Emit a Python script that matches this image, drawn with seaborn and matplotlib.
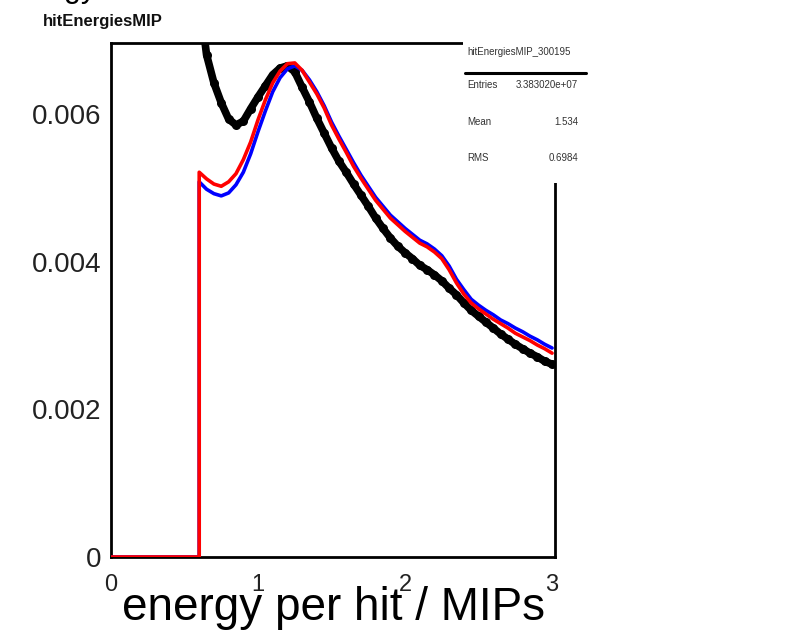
import numpy as np
import pandas as pd
import matplotlib
matplotlib.use("Agg")
import matplotlib.pyplot as plt
from matplotlib.patches import Rectangle
import seaborn as sns

# ---------------- data ----------------
energy = [0.60, 0.65, 0.70, 0.75, 0.80, 0.85, 0.90, 0.95, 1.00, 1.05,
          1.10, 1.15, 1.20, 1.25, 1.30, 1.35, 1.40, 1.45, 1.50, 1.55,
          1.60, 1.65, 1.70, 1.75, 1.80, 1.85, 1.90, 1.95, 2.00, 2.05,
          2.10, 2.15, 2.20, 2.25, 2.30, 2.35, 2.40, 2.45, 2.50, 2.55,
          2.60, 2.65, 2.70, 2.75, 2.80, 2.85, 2.90, 2.95, 3.00]

red_hist = [0.00521, 0.00512, 0.00505, 0.00502, 0.00508, 0.00519, 0.00538, 0.00562, 0.00592, 0.00619,
            0.00642, 0.00658, 0.00668, 0.00669, 0.00659, 0.00643, 0.00627, 0.00608, 0.00585, 0.00566,
            0.00548, 0.00529, 0.00513, 0.00498, 0.00483, 0.00471, 0.00459, 0.00450, 0.00441, 0.00433,
            0.00425, 0.00420, 0.00413, 0.00404, 0.00389, 0.00371, 0.00356, 0.00344, 0.00336, 0.00329,
            0.00322, 0.00316, 0.00310, 0.00303, 0.00298, 0.00293, 0.00287, 0.00282, 0.00276]

blue_hist = [0.00508, 0.00498, 0.00492, 0.00489, 0.00493, 0.00504, 0.00521, 0.00546, 0.00576, 0.00604,
             0.00630, 0.00649, 0.00661, 0.00665, 0.00659, 0.00646, 0.00630, 0.00611, 0.00589, 0.00570,
             0.00552, 0.00534, 0.00517, 0.00502, 0.00487, 0.00475, 0.00463, 0.00454, 0.00445, 0.00437,
             0.00429, 0.00424, 0.00417, 0.00408, 0.00394, 0.00376, 0.00362, 0.00349, 0.00341, 0.00334,
             0.00328, 0.00321, 0.00316, 0.00310, 0.00305, 0.00299, 0.00294, 0.00288, 0.00283]

black_data = [0.00760, 0.00680, 0.00642, 0.00615, 0.00593, 0.00585, 0.00590, 0.00607, 0.00623, 0.00638,
              0.00653, 0.00662, 0.00665, 0.00657, 0.00636, 0.00616, 0.00594, 0.00574, 0.00554, 0.00536,
              0.00521, 0.00505, 0.00490, 0.00475, 0.00459, 0.00445, 0.00432, 0.00421, 0.00412, 0.00404,
              0.00395, 0.00389, 0.00382, 0.00374, 0.00364, 0.00355, 0.00344, 0.00334, 0.00326, 0.00318,
              0.00310, 0.00302, 0.00295, 0.00288, 0.00282, 0.00276, 0.00271, 0.00265, 0.00261]

# histogram is empty below the threshold (0 .. 0.60)
below_x = [0.0, 0.60]
below_y = [0.0, 0.0]

x_ticks = [0, 1, 2, 3]
x_ticklabels = ["0", "1", "2", "3"]
y_ticks = [0, 0.002, 0.004, 0.006]
y_ticklabels = ["0", "0.002", "0.004", "0.006"]

title = "hitEnergiesMIP"
xlabel = "energy per hit / MIPs"
stats_title = "hitEnergiesMIP_300195"
stats_rows = [("Entries", "3.383020e+07"), ("Mean", "1.534"), ("RMS", "0.6984")]

# ---------------- figure ----------------
sns.set_theme(style="white")
plt.rcParams["font.family"] = ["Liberation Sans", "DejaVu Sans"]

W, H = 806, 637
fig = plt.figure(figsize=(W / 100, H / 100), dpi=100)
ax = fig.add_axes([111 / W, 1 - 557 / H, 444 / W, 514 / H])

hx = below_x + energy
red_df = pd.DataFrame({"x": hx, "y": below_y + red_hist, "o": range(len(hx))})
blue_df = pd.DataFrame({"x": hx, "y": below_y + blue_hist, "o": range(len(hx))})
black_df = pd.DataFrame({"x": energy, "y": black_data})

sns.lineplot(data=black_df, x="x", y="y", ax=ax, color="black", linewidth=5.5,
             marker="o", markersize=6.5, markeredgewidth=0, zorder=3,
             estimator=None)
sns.lineplot(data=blue_df, x="x", y="y", ax=ax, color="#0000ff", linewidth=2.6,
             estimator=None, sort=False, zorder=4)
sns.lineplot(data=red_df, x="x", y="y", ax=ax, color="#ff0000", linewidth=2.6,
             estimator=None, sort=False, zorder=5)

ax.set_xlim(0, 3.02)
ax.set_ylim(0, 0.00696)
ax.set_xticks(x_ticks)
ax.set_xticklabels(x_ticklabels)
ax.set_yticks(y_ticks)
ax.set_yticklabels(y_ticklabels)
ax.tick_params(axis="both", direction="in", length=8, width=1.8, color="black",
               labelcolor="#222222")
ax.tick_params(axis="x", labelsize=17, pad=12)
ax.tick_params(axis="y", labelsize=20, pad=7)
for s in ax.spines.values():
    s.set_visible(True)
    s.set_color("black")
    s.set_linewidth(2.0)
ax.grid(False)

ax.set_xlabel(xlabel, fontsize=33, va="baseline", color="black")
ax.xaxis.set_label_coords((333 - 111) / 444, -(620 - 557) / 514)
ax.set_ylabel("")

# title
fig.text(43 / W, 1 - 26 / H, title, fontsize=12, fontweight="bold",
         va="baseline", ha="left", color="#111111")
# cut-off big heading at the very top (only descenders visible)
fig.text(97 / W, 1 + 2.5 / H, "energy", fontsize=22, va="baseline", ha="right",
         color="black")

# stats box (covers the top/right frame)
fig.patches.append(Rectangle((463 / W, 1 - 183 / H), 127 / W, 148 / H,
                             transform=fig.transFigure, facecolor="white",
                             edgecolor="none", zorder=10))
fig.lines.append(plt.Line2D([465 / W, 586 / W], [1 - 73 / H, 1 - 73 / H],
                            transform=fig.transFigure, color="black",
                            linewidth=2.2, zorder=11))
fig.text(467 / W, 1 - 52 / H, stats_title, fontsize=7, va="center", ha="left",
         zorder=12, color="#333333")
for (lab, val), yy in zip(stats_rows, [85, 122, 158]):
    fig.text(467 / W, 1 - yy / H, lab, fontsize=7, va="center", ha="left",
             zorder=12, color="#333333")
    fig.text(578 / W, 1 - yy / H, val, fontsize=7, va="center", ha="right",
             zorder=12, color="#333333")

fig.savefig("out.png", dpi=100, facecolor="white")
